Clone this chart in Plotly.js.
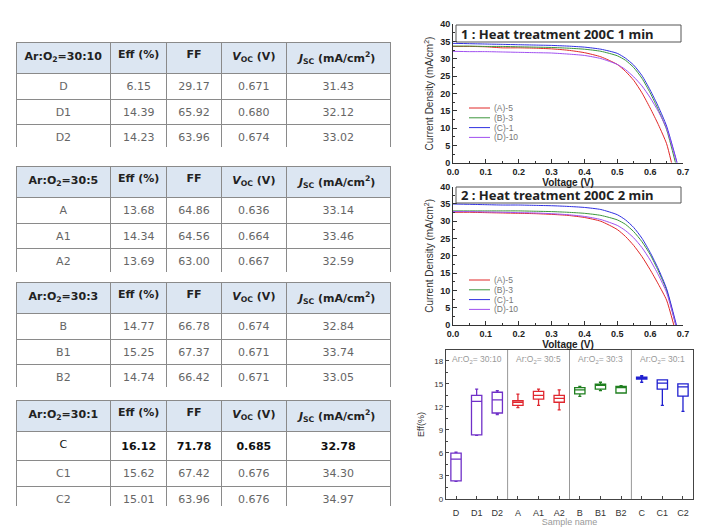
<!DOCTYPE html>
<html><head><meta charset="utf-8">
<script src="https://cdn.plot.ly/plotly-3.0.1.min.js"></script>
<style>body{margin:0;background:#fff}#chart{width:720px;height:527px}</style>
</head><body><div id="chart"></div>
<script>
const W = 720, H = 527;
const px = x => x / W, py = y => 1 - y / H;

// ---------- table data ----------
const tableGroups = ["Ar:O<sub>2</sub>=30:10", "Ar:O<sub>2</sub>=30:5", "Ar:O<sub>2</sub>=30:3", "Ar:O<sub>2</sub>=30:1"];
const tableHeaders = ["Eff\u00a0(%)", "FF", "<i>V</i><sub>OC</sub>\u00a0(V)", "<i>J</i><sub>SC</sub>\u00a0(mA/cm<sup>2</sup>)"];
const samples = [["D", "D1", "D2"], ["A", "A1", "A2"], ["B", "B1", "B2"], ["C", "C1", "C2"]];
const effVals = [["6.15", "14.39", "14.23"], ["13.68", "14.34", "13.69"], ["14.77", "15.25", "14.74"], ["16.12", "15.62", "15.01"]];
const ffVals = [["29.17", "65.92", "63.96"], ["64.86", "64.56", "63.00"], ["66.78", "67.37", "66.42"], ["71.78", "67.42", "63.96"]];
const vocVals = [["0.671", "0.680", "0.674"], ["0.636", "0.664", "0.667"], ["0.674", "0.671", "0.671"], ["0.685", "0.676", "0.676"]];
const jscVals = [["31.43", "32.12", "33.02"], ["33.14", "33.46", "32.59"], ["32.84", "33.74", "33.05"], ["32.78", "34.30", "34.97"]];
const boldRow = [null, null, null, 0];

// ---------- J-V data ----------
const voltage = [0, 0.05, 0.1, 0.15, 0.2, 0.25, 0.3, 0.35, 0.4, 0.45, 0.5, 0.525, 0.55, 0.575, 0.6, 0.625, 0.65];
const jvLabels = ["(A)-5", "(B)-3", "(C)-1", "(D)-10"];
// 1 min
const j1A = [33.6, 33.6, 33.5, 33.2, 33.2, 33.1, 32.9, 32.5, 31.8, 30.6, 28.4, 26.4, 23.8, 20.2, 15.8, 11.0, 5.5];
const j1B = [33.7, 33.7, 33.6, 33.6, 33.5, 33.4, 33.3, 33.1, 32.8, 32.2, 30.9, 29.6, 27.5, 24.4, 20.2, 15.3, 9.6];
const j1C = [34.5, 34.4, 34.3, 34.2, 34.1, 34.0, 33.9, 33.7, 33.4, 32.8, 31.6, 30.2, 28.2, 25.2, 21.0, 16.2, 10.6];
const j1D = [32.2, 32.1, 32.1, 32.0, 31.9, 31.8, 31.7, 31.4, 31.0, 30.1, 28.4, 26.9, 24.8, 22.2, 18.8, 14.8, 9.9];
const voc1 = [0.665, 0.677, 0.682, 0.681];
// 2 min
const j2A = [32.6, 32.6, 32.5, 32.4, 32.3, 32.2, 32.0, 31.7, 31.1, 30.0, 27.6, 25.6, 23.0, 19.8, 16.0, 11.8, 7.2];
const j2B = [33.0, 33.0, 33.0, 33.0, 33.0, 32.9, 32.8, 32.6, 32.3, 31.7, 30.4, 29.1, 27.0, 24.1, 20.4, 15.6, 10.1];
const j2C = [35.0, 34.9, 34.8, 34.7, 34.7, 34.6, 34.5, 34.3, 34.0, 33.4, 31.9, 30.4, 28.2, 25.1, 21.0, 16.2, 10.5];
const j2D = [32.8, 32.8, 32.7, 32.6, 32.5, 32.4, 32.2, 31.9, 31.4, 30.5, 28.8, 27.3, 25.2, 22.4, 18.8, 14.5, 9.4];
const voc2 = [0.672, 0.678, 0.680, 0.678];
const jvColors = ["#e02828", "#3c963c", "#3030e0", "#a050f0"];

// ---------- box plot data ----------
const boxNames = ["D", "D1", "D2", "A", "A1", "A2", "B", "B1", "B2", "C", "C1", "C2"];
const boxLo  = [2.3, 8.3, 11.0, 11.9, 12.2, 11.6, 13.35, 14.1, 13.8, 15.2, 12.2, 11.4];
const boxQ1  = [2.35, 8.35, 11.2, 12.2, 13.0, 12.6, 13.7, 14.3, 13.8, 15.6, 14.3, 13.4];
const boxMed = [5.2, 12.7, 12.9, 12.6, 13.5, 13.1, 14.2, 14.8, 14.55, 15.74, 15.1, 14.6];
const boxQ3  = [5.96, 13.5, 13.9, 12.8, 14.0, 13.5, 14.5, 14.95, 14.65, 15.87, 15.5, 15.0];
const boxHi  = [6.1, 14.3, 14.1, 13.65, 14.3, 14.2, 14.65, 15.2, 14.75, 16.05, 15.5, 15.0];
const boxGroupLabels = ["Ar:O<sub>2</sub>= 30:10", "Ar:O<sub>2</sub>= 30:5", "Ar:O<sub>2</sub>= 30:3", "Ar:O<sub>2</sub>= 30:1"];
const boxColors = ["#7030c8", "#e02830", "#1f7f1f", "#2020d0"];

const traces = [];
const tableTops = [42, 166, 282, 400];
const fontBody = "DejaVu Sans, Verdana, sans-serif";

for (let t = 0; t < 4; t++) {
  const b = v => v.map((s, i) => i === boldRow[t] ? "<b>" + s + "</b>" : s);
  const bodyColor = samples[t].map((s, i) => i === boldRow[t] ? "#111" : "#666");
  traces.push({
    type: "table",
    domain: {x: [px(16), px(391)], y: [py(tableTops[t] + 106), py(tableTops[t])]},
    columnwidth: [95, 56, 55, 65, 104],
    header: {
      values: [[tableGroups[t]]].concat(tableHeaders.map(h => [h])),
      fill: {color: "#dce6f2"},
      line: {color: "#8a8a8a", width: 1},
      font: {family: fontBody, size: 11, color: "#222", weight: "bold"},
      align: "center", height: 23
    },
    cells: {
      values: [samples[t], b(effVals[t]), b(ffVals[t]), b(vocVals[t]), b(jscVals[t])],
      fill: {color: "#ffffff"},
      line: {color: "#8a8a8a", width: 1},
      font: {family: fontBody, size: 11, color: [bodyColor, bodyColor, bodyColor, bodyColor, bodyColor]},
      align: "center", height: 25.5
    }
  });
}

const j1 = [j1A, j1B, j1C, j1D], j2 = [j2A, j2B, j2C, j2D];
for (let k = 0; k < 4; k++) {
  traces.push({type: "scatter", mode: "lines", x: voltage.concat([voc1[k]]), y: j1[k].concat([0]),
    line: {color: jvColors[k], width: 1, shape: "spline", smoothing: 0.6}, xaxis: "x", yaxis: "y", showlegend: false, hoverinfo: "skip"});
}
for (let k = 0; k < 4; k++) {
  traces.push({type: "scatter", mode: "lines", x: voltage.concat([voc2[k]]), y: j2[k].concat([0]),
    line: {color: jvColors[k], width: 1, shape: "spline", smoothing: 0.6}, xaxis: "x2", yaxis: "y2", showlegend: false, hoverinfo: "skip"});
}
for (let g = 0; g < 4; g++) {
  const sl = a => a.slice(g * 3, g * 3 + 3);
  traces.push({type: "box", x: sl(boxNames), q1: sl(boxQ1), median: sl(boxMed), q3: sl(boxQ3),
    lowerfence: sl(boxLo), upperfence: sl(boxHi), width: 0.5, whiskerwidth: 0.3,
    line: {color: boxColors[g], width: 1.3}, fillcolor: "rgba(255,255,255,0)", boxpoints: false,
    xaxis: "x3", yaxis: "y3", showlegend: false, hoverinfo: "skip"});
}

const tickFont = {family: "Liberation Sans, Arial, sans-serif", size: 9, color: "#222", weight: "bold"};
const jvX = (dom) => ({domain: dom, range: [0, 0.7], dtick: 0.1, tickformat: ".1f", showline: true, linecolor: "#333", linewidth: 1,
  ticks: "inside", ticklen: 4, tickcolor: "#333", minor: {ticks: "inside", ticklen: 2, dtick: 0.05, tickcolor: "#333"},
  showgrid: false, zeroline: false, tickfont: tickFont, automargin: false});
const jvY = (dom) => ({domain: dom, range: [0, 40], dtick: 5, showline: true, linecolor: "#333", linewidth: 1,
  ticks: "inside", ticklen: 4, tickcolor: "#333", minor: {ticks: "inside", ticklen: 2, dtick: 2.5, tickcolor: "#333"},
  showgrid: false, zeroline: false, tickfont: tickFont, automargin: false,
  title: {text: "Current Density (mA/cm<sup>2</sup>)", font: {family: "Liberation Sans, Arial, sans-serif", size: 10, color: "#333"}, standoff: 4}});

const annotations = [], shapes = [];
const titles = [["1 : Heat treatment 200C 1 min", 25, 42], ["2 : Heat treatment 200C 2 min", 187, 203]];
titles.forEach(tt => {
  shapes.push({type: "rect", xref: "paper", yref: "paper", x0: px(456), x1: px(681), y0: py(tt[2]), y1: py(tt[1]),
    line: {color: "#555", width: 1}, fillcolor: "rgba(0,0,0,0)"});
  annotations.push({xref: "paper", yref: "paper", x: px(459), y: py((tt[1] + tt[2]) / 2), xanchor: "left", yanchor: "middle",
    text: "<b>" + tt[0] + "</b>", showarrow: false, font: {family: "Noto Sans, sans-serif", size: 13, color: "#222"}});
});
// manual legends
const legTops = [108, 280], legStep = [9.8, 9.8];
for (let c = 0; c < 2; c++) {
  for (let k = 0; k < 4; k++) {
    const yy = legTops[c] + k * legStep[c];
    shapes.push({type: "line", xref: "paper", yref: "paper", x0: px(469), x1: px(490), y0: py(yy), y1: py(yy), line: {color: jvColors[k], width: 1}});
    annotations.push({xref: "paper", yref: "paper", x: px(492), y: py(yy), xanchor: "left", yanchor: "middle", text: jvLabels[k],
      showarrow: false, font: {family: "Liberation Sans, Arial, sans-serif", size: 8.5, color: "#777"}});
  }
}
// box plot separators & group labels
[2.5, 5.5, 8.5].forEach(xv => shapes.push({type: "line", xref: "x3", yref: "y3 domain", x0: xv, x1: xv, y0: 0, y1: 1, line: {color: "#999", width: 1}}));
boxGroupLabels.forEach((lab, g) => annotations.push({xref: "x3", yref: "y3", x: g * 3 + 1, y: 18.2, text: lab, showarrow: false,
  font: {family: "Liberation Sans, Arial, sans-serif", size: 8.5, color: "#999"}}));

const layout = {
  width: W, height: H, margin: {l: 0, r: 0, t: 0, b: 0}, paper_bgcolor: "#fff", plot_bgcolor: "rgba(0,0,0,0)",
  showlegend: false,
  xaxis: Object.assign(jvX([px(453), px(683)]), {anchor: "y", title: {text: "<b>Voltage (V)</b>", font: {family: "Liberation Sans, Arial, sans-serif", size: 10, color: "#222"}, standoff: 2}}),
  yaxis: Object.assign(jvY([py(162.7), py(24.3)]), {anchor: "x"}),
  xaxis2: Object.assign(jvX([px(453), px(683)]), {anchor: "y2", title: {text: "<b>Voltage (V)</b>", font: {family: "Liberation Sans, Arial, sans-serif", size: 10, color: "#222"}, standoff: 2}}),
  yaxis2: Object.assign(jvY([py(325), py(186.7)]), {anchor: "x2"}),
  xaxis3: {domain: [px(445.7), px(693.3)], anchor: "y3", type: "category", categoryorder: "array", categoryarray: boxNames,
    range: [-0.5, 11.5], showline: true, mirror: true, linecolor: "#444", linewidth: 1, ticks: "inside", ticklen: 3, tickcolor: "#444",
    showgrid: false, zeroline: false, tickfont: {family: "Liberation Sans, Arial, sans-serif", size: 9, color: "#333"}, automargin: false,
    ticklabelstandoff: 5,
    title: {text: "Sample name", font: {family: "Liberation Sans, Arial, sans-serif", size: 9, color: "#999"}, standoff: 2}},
  yaxis3: {domain: [py(499), py(350)], anchor: "x3", range: [0, 19.4], tickvals: [0, 3, 6, 9, 12, 15, 18], showline: true, mirror: true,
    linecolor: "#444", linewidth: 1, ticks: "inside", ticklen: 3, tickcolor: "#444", minor: {ticks: "inside", ticklen: 2, dtick: 1.5, tickcolor: "#444"},
    showgrid: false, zeroline: false, tickfont: {family: "Liberation Sans, Arial, sans-serif", size: 8, color: "#333"}, automargin: false,
    title: {text: "Eff(%)", font: {family: "Liberation Sans, Arial, sans-serif", size: 9, color: "#333"}, standoff: 8}},
  shapes: shapes, annotations: annotations
};

Plotly.newPlot("chart", traces, layout, {staticPlot: true, displayModeBar: false});
</script>
</body></html>
